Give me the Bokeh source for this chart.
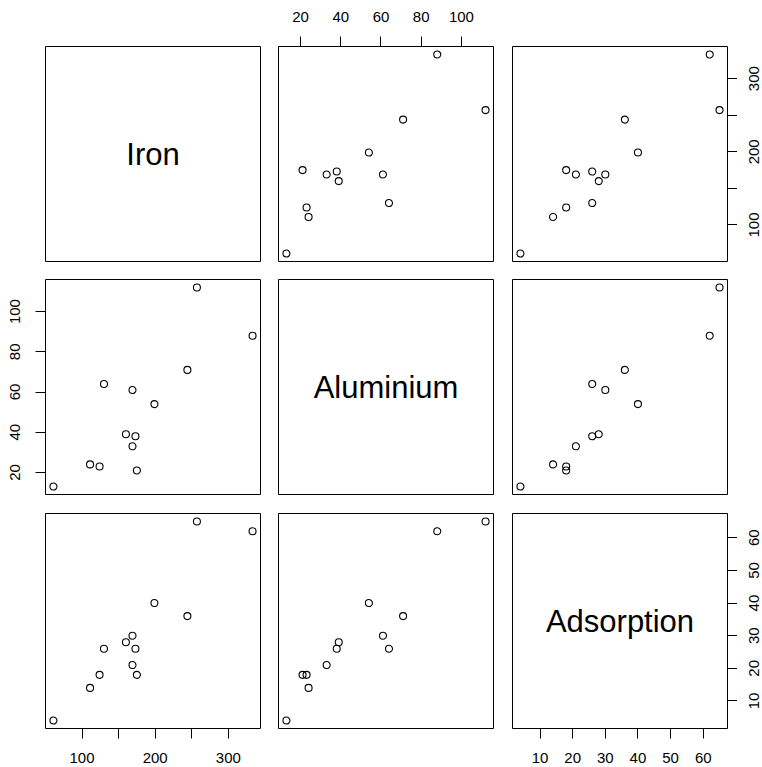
import math

from bokeh.plotting import figure
from bokeh.layouts import gridplot
from bokeh.models import Range1d, LinearAxis, FixedTicker
from bokeh.embed import file_html
from bokeh.resources import INLINE
from bokeh.core.properties import value

# Phosphate adsorption data: iron, aluminium, adsorption index (13 soil samples)
names = ["Iron", "Aluminium", "Adsorption"]
iron = [61, 175, 111, 124, 130, 173, 169, 169, 160, 244, 257, 333, 199]
aluminium = [13, 21, 24, 23, 64, 38, 33, 61, 39, 71, 112, 88, 54]
adsorption = [4, 18, 14, 18, 26, 26, 21, 30, 28, 36, 65, 62, 40]

iron_ticks = [100, 150, 200, 250, 300]
iron_tick_labels = ["100", "", "200", "", "300"]
aluminium_ticks = [20, 40, 60, 80, 100]
aluminium_tick_labels = ["20", "40", "60", "80", "100"]
adsorption_ticks = [10, 20, 30, 40, 50, 60]
adsorption_tick_labels = ["10", "20", "30", "40", "50", "60"]

data = [iron, aluminium, adsorption]
ticks = [iron_ticks, aluminium_ticks, adsorption_ticks]
tick_labels = [iron_tick_labels, aluminium_tick_labels, adsorption_tick_labels]

FONT = "Liberation Sans"
TICK_FONT_SIZE = "15px"
TICK_LEN = 10
FRAME = 215
n = 3

# outer paddings around each panel column / row
col_left = [45, 9, 9]
col_right = [9, 10, 10]
row_top = [46, 9, 10]
row_bottom = [9, 9, 39]

# strip to the right of the last column holding the right-hand tick labels
STRIP_W = 25          # px
STRIP_LABEL_X = 16    # px from the strip's left edge to the label centre

# which sides carry an axis: (row, col) -> list of (side, variable index)
axes_spec = {
    (0, 1): [("above", 1)],
    (0, 2): [("right", 0)],
    (1, 0): [("left", 1)],
    (2, 0): [("below", 0)],
    (2, 2): [("below", 2), ("right", 2)],
}

standoff = {"above": 15, "below": 14, "left": 15}


def padded_range(v):
    lo, hi = min(v), max(v)
    pad = 0.04 * (hi - lo)
    return Range1d(lo - pad, hi + pad)


def make_axis(var, side):
    ax = LinearAxis(ticker=FixedTicker(ticks=ticks[var]))
    ax.axis_line_color = None
    ax.major_tick_in = 0
    ax.major_tick_out = TICK_LEN
    ax.major_tick_line_color = "black"
    ax.major_tick_line_width = 1
    ax.minor_tick_line_color = None
    ax.major_label_text_font = FONT
    ax.major_label_text_font_size = TICK_FONT_SIZE
    ax.major_label_text_color = "black"
    if side == "right":
        # tick marks only; the labels go in the strip beside, reading bottom-to-top
        ax.major_label_overrides = {t: "" for t in ticks[var]}
        ax.major_label_text_color = None
        ax.major_label_standoff = 0
    else:
        ax.major_label_overrides = {t: lab for t, lab in zip(ticks[var], tick_labels[var])}
        ax.major_label_standoff = standoff[side]
        if side == "left":
            ax.major_label_orientation = "vertical"
    return ax


def make_strip(i, y_range):
    s = figure(
        frame_width=STRIP_W, frame_height=FRAME,
        x_range=Range1d(0, STRIP_W), y_range=y_range,
        x_axis_location=None, y_axis_location=None,
        output_backend="svg", toolbar_location=None,
        min_border_left=0, min_border_right=0,
        min_border_top=row_top[i], min_border_bottom=row_bottom[i],
        background_fill_color="white", border_fill_color="white",
    )
    s.grid.visible = False
    s.outline_line_color = None
    for side, var in axes_spec.get((i, n - 1), []):
        if side != "right":
            continue
        shown = [(t, lab) for t, lab in zip(ticks[var], tick_labels[var]) if lab]
        s.text(x=[STRIP_LABEL_X] * len(shown), y=[t for t, _ in shown],
               text=[lab for _, lab in shown], angle=math.pi / 2,
               text_align="center", text_baseline="middle",
               text_font=value(FONT), text_font_size=TICK_FONT_SIZE,
               text_color="black")
    return s


rows = []
for i in range(n):
    row = []
    for j in range(n):
        p = figure(
            frame_width=FRAME, frame_height=FRAME,
            x_range=padded_range(data[j]), y_range=padded_range(data[i]),
            x_axis_location=None, y_axis_location=None,
            output_backend="svg", toolbar_location=None,
            min_border_left=col_left[j], min_border_right=col_right[j],
            min_border_top=row_top[i], min_border_bottom=row_bottom[i],
            background_fill_color="white", border_fill_color="white",
        )
        p.grid.visible = False
        p.outline_line_color = "black"
        p.outline_line_width = 1
        p.outline_line_alpha = 1

        if i == j:
            xr, yr = p.x_range, p.y_range
            p.text(x=[(xr.start + xr.end) / 2], y=[(yr.start + yr.end) / 2],
                   text=[names[i]], text_align="center", text_baseline="middle",
                   text_font=value(FONT), text_font_size="31px", text_color="black")
        else:
            p.scatter(x=data[j], y=data[i], marker="circle", size=7,
                      fill_color=None, line_color="black", line_width=1.1)

        for side, var in axes_spec.get((i, j), []):
            p.add_layout(make_axis(var, side), side)
        row.append(p)
    row.append(make_strip(i, row[-1].y_range))
    rows.append(row)

grid = gridplot(rows, toolbar_location=None)
open("out.html", "w").write(file_html(grid, INLINE))
